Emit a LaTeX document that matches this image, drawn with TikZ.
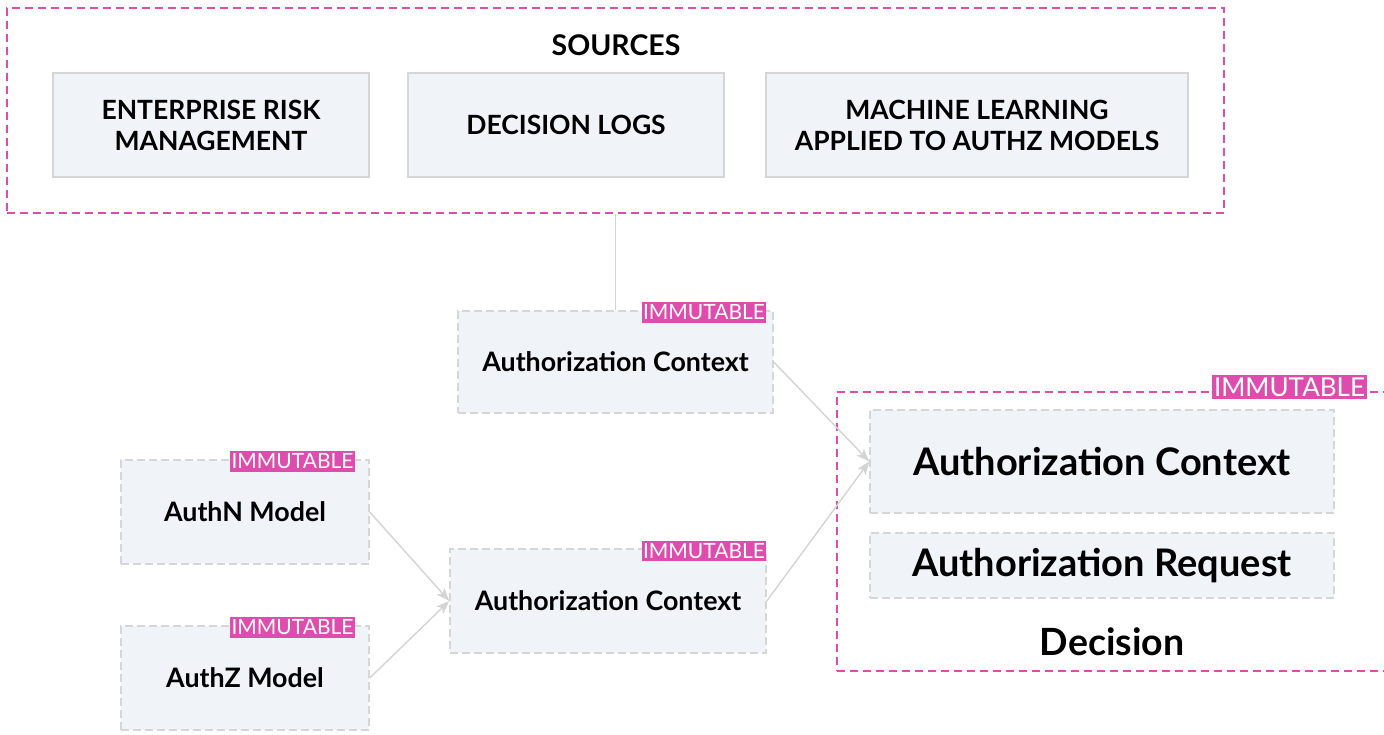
\documentclass[tikz,border=0pt]{standalone}
\usepackage{fontspec}
\setmainfont{Lato}
\usetikzlibrary{arrows.meta,positioning,calc}
\definecolor{tagpink}{HTML}{DE4DAE}
\definecolor{boxfill}{HTML}{F0F3F8}
\definecolor{boxline}{HTML}{D6D6D6}
\definecolor{linkgray}{HTML}{D4D4D4}
\tikzset{
  srcbox/.style={draw=boxline, line width=1.5pt, fill=boxfill, align=center,
    font=\fontsize{26.5}{31}\selectfont\bfseries, inner sep=0pt},
  ctxbox/.style={draw=boxline, line width=1.5pt, dash pattern=on 8pt off 4pt,
    fill=boxfill, align=center, font=\fontsize{26.8}{30}\selectfont\bfseries, inner sep=0pt},
  groupbox/.style={draw=tagpink, line width=1.6pt, dash pattern=on 8pt off 5pt, inner sep=0pt},
  tag/.style={fill=tagpink, text=white, inner xsep=1.5pt, inner ysep=2.5pt, font=\fontsize{21}{21}\selectfont},
  bigtag/.style={fill=tagpink, text=white, inner xsep=2pt, inner ysep=3pt, font=\fontsize{26}{26}\selectfont},
  link/.style={draw=linkgray, line width=1.4pt},
  flow/.style={link, -{Stealth[length=13pt,width=10pt,inset=3pt]}},
}
\begin{document}
\begin{tikzpicture}[x=1pt,y=-1pt]
\useasboundingbox (0,0) rectangle (1384,735);
\clip (0,0) rectangle (1384,735);

% sources group
\node[groupbox, minimum width=1217pt, minimum height=205pt] (sources) at (615.5,110.5) {};
\node[font=\fontsize{28.5}{28.5}\selectfont\bfseries] (srctitle) at (616,45) {SOURCES};
\node[srcbox, minimum width=316pt, minimum height=104pt] (erm) at (211,125) {ENTERPRISE RISK\\MANAGEMENT};
\node[srcbox, minimum width=316pt, minimum height=104pt] (logs) at (566,125) {DECISION LOGS};
\node[srcbox, minimum width=422pt, minimum height=104pt] (ml) at (977,125) {MACHINE LEARNING\\APPLIED TO AUTHZ MODELS};

% intermediate contexts
\node[ctxbox, minimum width=315pt, minimum height=102pt] (ctxa) at (615.5,362) {Authorization Context};
\node[tag] (taga) at (704,312.5) {IMMUTABLE};

\node[ctxbox, minimum width=248pt, minimum height=104pt] (authn) at (245,512) {AuthN Model};
\node[tag] (tagn) at (292.5,461.5) {IMMUTABLE};

\node[ctxbox, minimum width=248pt, minimum height=104pt] (authz) at (245,678) {AuthZ Model};
\node[tag] (tagz) at (292.5,627.5) {IMMUTABLE};

\node[ctxbox, minimum width=316pt, minimum height=104pt] (ctxb) at (608,601) {Authorization Context};
\node[tag] (tagb) at (704,551) {IMMUTABLE};

% decision group
\node[groupbox, minimum width=560pt, minimum height=279pt] (decision) at (1117,531.5) {};
\node[bigtag] (tagd) at (1289.5,387) {IMMUTABLE};
\node[ctxbox, minimum width=464pt, minimum height=103pt, font=\fontsize{38}{44}\selectfont\bfseries] (ctxc) at (1102,461.5) {Authorization Context};
\node[ctxbox, minimum width=464pt, minimum height=65pt, font=\fontsize{38}{44}\selectfont\bfseries] (req) at (1102,565.5) {Authorization Request};
\node[font=\fontsize{37.5}{37.5}\selectfont\bfseries] (declabel) at (1112,642) {Decision};

% connectors
\draw[link] (sources.south -| ctxa.north) -- (ctxa.north);
\draw[flow] (authn.east) -- (ctxb.west);
\draw[flow] (authz.east) -- (ctxb.west);
\draw[flow] (ctxa.east) -- (ctxc.west);
\draw[flow] (ctxb.east) -- (ctxc.west);
\end{tikzpicture}
\end{document}
